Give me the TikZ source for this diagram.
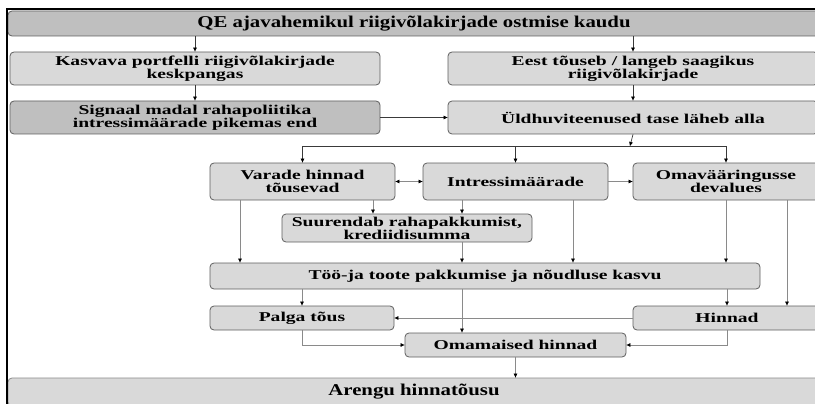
\documentclass[tikz,border=0pt]{standalone}
\usepackage{fontspec}
\setmainfont{Liberation Serif}
\newfontfamily\boxfont[FakeStretch=1.45]{Liberation Serif}
\newfontfamily\bigboxfont[FakeStretch=1.26]{Liberation Serif}
\usetikzlibrary{arrows.meta}

\definecolor{darkfill}{HTML}{BFBFBF}
\definecolor{lightfill}{HTML}{D9D9D9}
\definecolor{boxline}{HTML}{5F5F5F}
\definecolor{linegray}{HTML}{8A8A8A}
\definecolor{linedark}{HTML}{3A3A3A}

\tikzset{
  box/.style={draw=boxline, fill=lightfill, rounded corners=4pt, line width=0.8pt,
    font=\boxfont\fontsize{13.5}{13}\selectfont\bfseries, align=center, inner sep=0pt},
  darkbox/.style={box, fill=darkfill},
  bigbox/.style={font=\bigboxfont\fontsize{16.5}{17}\selectfont\bfseries},
  conn/.style={draw=linegray, line width=0.7pt},
  arr/.style={conn, -{Triangle[length=4pt,width=3.5pt,color=black]}},
  dblarr/.style={conn, {Triangle[length=4pt,width=3.5pt,color=black]}-{Triangle[length=4pt,width=3.5pt,color=black]}},
  dark/.style={draw=linedark}
}

\begin{document}
\begin{tikzpicture}[x=1pt,y=-1pt]
\clip (0,0) rectangle (815,404);
\fill[white] (0,0) rectangle (815,404);

\node[darkbox,bigbox,minimum width=812pt,minimum height=25pt] (qe) at (414,23.5) {QE ajavahemikul riigivõlakirjade ostmise kaudu};
\node[box,minimum width=370pt,minimum height=33pt] (kas) at (195,68.5) {Kasvava portfelli riigivõlakirjade\\keskpangas};
\node[darkbox,minimum width=370pt,minimum height=33pt] (sig) at (195,117.5) {Signaal madal rahapoliitika\\intressimäärade pikemas end};
\node[box,minimum width=370pt,minimum height=33pt] (eest) at (633,68.5) {Eest tõuseb / langeb saagikus\\riigivõlakirjade};
\node[box,minimum width=370pt,minimum height=33pt] (uld) at (633,117.5) {Üldhuviteenused tase läheb alla};

\node[box,minimum width=185pt,minimum height=37pt] (var) at (302.5,181.5) {Varade hinnad\\tõusevad};
\node[box,minimum width=185pt,minimum height=37pt] (int) at (515.5,181.5) {Intressimäärade};
\node[box,minimum width=186pt,minimum height=37pt] (omav) at (726,181.5) {Omavääringusse\\devalues};
\node[box,minimum width=250pt,minimum height=28pt] (sur) at (407,228) {Suurendab rahapakkumist,\\krediidisumma};
\node[box,minimum width=550pt,minimum height=26pt] (too) at (485,276) {Töö-ja toote pakkumise ja nõudluse kasvu};
\node[box,minimum width=184pt,minimum height=24pt] (pal) at (302,318) {Palga tõus};
\node[box,minimum width=188pt,minimum height=24pt] (hin) at (727,318) {Hinnad};
\node[box,minimum width=221pt,minimum height=24pt] (omm) at (515.5,345) {Omamaised hinnad};
\node[box,bigbox,draw=linegray,minimum width=812pt,minimum height=28pt] (are) at (414,392) {Arengu hinnatõusu};

\coordinate (fork) at (630,146);
\coordinate (c1) at (240,0);
\coordinate (c2) at (373,0);
\coordinate (c3) at (462,0);
\coordinate (c4) at (573,0);
\coordinate (c5) at (787,0);

\draw[black,line width=1.2pt] (7,404) -- (7,9) -- (815,9);

\draw[arr,dark] (qe.south -| kas.north) -- (kas.north);
\draw[arr,dark] (kas.south) -- (sig.north);
\draw[arr,dark] (qe.south -| eest.north) -- (eest.north);
\draw[arr,dark] (eest.south) -- (uld.north);
\draw[arr,dark] (sig.east) -- (uld.west);

\draw[arr,dark] (uld.south) -- (fork);
\draw[conn,dark] (fork -| var.north) -- (fork -| omav.north);
\draw[arr,dark] (fork -| var.north) -- (var.north);
\draw[arr,dark] (fork -| int.north) -- (int.north);
\draw[arr,dark] (fork -| omav.north) -- (omav.north);

\draw[dblarr] (var.east) -- (int.west);
\draw[arr] (int.east) -- (omav.west);

\draw[arr] (var.south -| c2) -- (sur.north -| c2);
\draw[arr] (int.south -| c3) -- (sur.north -| c3);
\draw[arr] (sur.south -| c3) -- (too.north -| c3);
\draw[arr] (var.south -| c1) -- (too.north -| c1);
\draw[arr] (int.south -| c4) -- (too.north -| c4);
\draw[arr] (omav.south) -- (too.north -| omav.south);
\draw[arr] (omav.south -| c5) -- (hin.north -| c5);

\draw[arr] (too.south -| pal.north) -- (pal.north);
\draw[arr] (too.south -| hin.north) -- (hin.north);
\draw[arr] (hin.west) -- (pal.east);
\draw[arr] (too.south -| c3) -- (omm.north -| c3);
\draw[arr] (pal.south) |- (omm.west);
\draw[arr] (hin.south) |- (omm.east);
\draw[arr] (omm.south) -- (omm.south |- are.north);
\end{tikzpicture}
\end{document}
